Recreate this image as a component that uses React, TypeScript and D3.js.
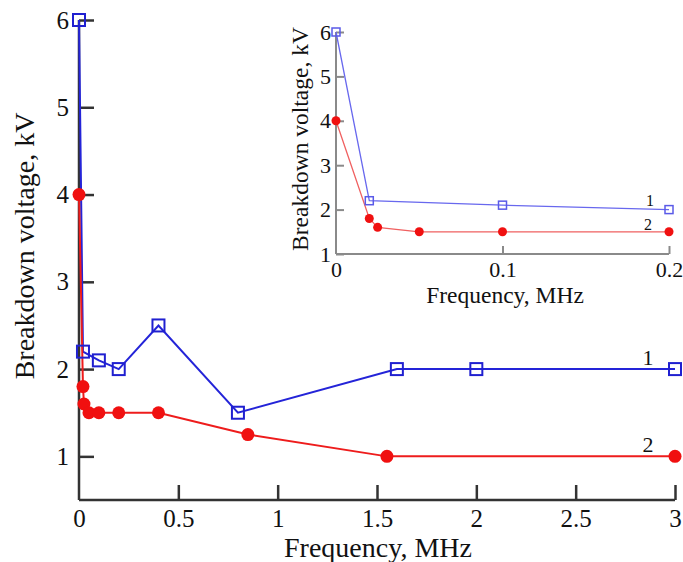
import React, {useEffect, useRef} from 'react';
import * as d3 from 'd3';

// frequency, MHz
const freq1 = [0, 0.02, 0.1, 0.2, 0.4, 0.8, 1.6, 2.0, 3.0];
const volt1 = [6, 2.2, 2.1, 2.0, 2.5, 1.5, 2.0, 2.0, 2.0];
const freq2 = [0, 0.02, 0.025, 0.05, 0.1, 0.2, 0.4, 0.85, 1.55, 3.0];
const volt2 = [4, 1.8, 1.6, 1.5, 1.5, 1.5, 1.5, 1.25, 1.0, 1.0];

// inset (zoom on low frequencies)
const insetFreq1 = [0, 0.02, 0.1, 0.2];
const insetVolt1 = [6, 2.2, 2.1, 2.0];
const insetFreq2 = [0, 0.02, 0.025, 0.05, 0.1, 0.2];
const insetVolt2 = [4, 1.8, 1.6, 1.5, 1.5, 1.5];

const mainXTicks = [0, 0.5, 1, 1.5, 2, 2.5, 3];
const mainYTicks = [1, 2, 3, 4, 5, 6];
const insetXTicks = [0, 0.1, 0.2];
const insetYTicks = [1, 2, 3, 4, 5, 6];

const FONT = '"Liberation Serif", "Times New Roman", Times, serif';

export default function App() {
    const ref = useRef<SVGSVGElement>(null);

    useEffect(() => {
        const svg = d3.select(ref.current);
        svg.selectAll('*').remove();

        function drawPanel(opt: any) {
            const x = d3.scaleLinear().domain(opt.xDomain).range(opt.xRange);
            const y = d3.scaleLinear().domain(opt.yDomain).range(opt.yRange);
            const g = svg.append('g');

            // axes, ticks pointing inward
            const xAxis = d3.axisBottom(x).tickValues(opt.xTicks).tickSize(-opt.tick)
                .tickFormat((d: any) => String(d));
            const yAxis = d3.axisLeft(y).tickValues(opt.yTicks).tickSize(-opt.tick)
                .tickFormat((d: any) => String(d));

            const gx = g.append('g')
                .attr('transform', 'translate(0,' + opt.yRange[0] + ')')
                .call(xAxis);
            const gy = g.append('g')
                .attr('transform', 'translate(' + opt.xRange[0] + ',0)')
                .call(yAxis);

            [gx, gy].forEach(a => {
                a.attr('font-family', null).attr('font-size', null);
                a.select('.domain').attr('stroke', opt.axisColor).attr('stroke-width', opt.axisWidth);
                a.selectAll('.tick line').attr('stroke', opt.axisColor).attr('stroke-width', opt.axisWidth);
                a.selectAll('.tick text')
                    .style('font-family', FONT).style('font-size', opt.tickFont + 'px')
                    .attr('fill', '#111');
            });
            gx.select('.domain').attr('d', 'M' + opt.xRange[0] + ',0H' + opt.xRange[1]);
            gy.select('.domain').attr('d', 'M0,' + opt.yRange[0] + 'V' + opt.yRange[1]);
            gx.selectAll('.tick text').attr('y', opt.xLabelDy).attr('dy', 0);
            gy.selectAll('.tick text').attr('x', -opt.yLabelDx);
            // no tick mark at origin of x
            gx.selectAll('.tick').filter((d: any) => d === 0).select('line').remove();

            g.append('text')
                .attr('x', opt.xTitle[0]).attr('y', opt.xTitle[1])
                .attr('text-anchor', 'middle')
                .style('font-family', FONT).style('font-size', opt.titleFont + 'px').attr('fill', '#111')
                .text('Frequency, MHz');
            g.append('text')
                .attr('transform', 'translate(' + opt.yTitle[0] + ',' + opt.yTitle[1] + ') rotate(-90)')
                .attr('text-anchor', 'middle')
                .style('font-family', FONT).style('font-size', opt.titleFont + 'px').attr('fill', '#111')
                .text('Breakdown voltage, kV');

            const line = d3.line<[number, number]>().x(d => x(d[0])).y(d => y(d[1]));
            const s1 = opt.f1.map((f: number, i: number) => [f, opt.v1[i]]);
            const s2 = opt.f2.map((f: number, i: number) => [f, opt.v2[i]]);

            g.append('path').datum(s1).attr('d', line).attr('fill', 'none')
                .attr('stroke', opt.blue).attr('stroke-width', opt.lineWidth);
            g.append('path').datum(s2).attr('d', line).attr('fill', 'none')
                .attr('stroke', opt.red).attr('stroke-width', opt.lineWidth);

            g.selectAll('.sq').data(s1).enter().append('rect')
                .attr('x', (d: any) => x(d[0]) - opt.sq / 2)
                .attr('y', (d: any) => y(d[1]) - opt.sq / 2)
                .attr('width', opt.sq).attr('height', opt.sq)
                .attr('fill', 'none').attr('stroke', opt.blueMark).attr('stroke-width', opt.sqStroke);
            g.selectAll('.dot').data(s2).enter().append('circle')
                .attr('cx', (d: any) => x(d[0])).attr('cy', (d: any) => y(d[1]))
                .attr('r', opt.r).attr('fill', '#f01010');

            opt.labels.forEach((l: any) => {
                g.append('text').attr('x', l[0]).attr('y', l[1])
                    .attr('text-anchor', 'middle')
                    .style('font-family', FONT).style('font-size', opt.seriesFont + 'px').attr('fill', '#111')
                    .text(l[2]);
            });
        }

        drawPanel({
            xDomain: [0, 3], xRange: [79, 675],
            yDomain: [0.5, 6], yRange: [500, 20],
            xTicks: mainXTicks, yTicks: mainYTicks,
            tick: 15, axisColor: '#333', axisWidth: 2.5,
            tickFont: 25, xLabelDy: 27, yLabelDx: 10,
            titleFont: 28, xTitle: [378, 557], yTitle: [34, 246],
            f1: freq1, v1: volt1, f2: freq2, v2: volt2,
            blue: '#2424d8', blueMark: '#2020d0', red: '#ee1c1c', lineWidth: 2,
            sq: 12, sqStroke: 2, r: 6.5,
            seriesFont: 22, labels: [[648, 365, '1'], [648, 452, '2']]
        });

        drawPanel({
            xDomain: [0, 0.2], xRange: [336, 669],
            yDomain: [1, 6], yRange: [254, 32],
            xTicks: insetXTicks, yTicks: insetYTicks,
            tick: 8, axisColor: '#8a8a8a', axisWidth: 2,
            tickFont: 22, xLabelDy: 23, yLabelDx: 5,
            titleFont: 23.5, xTitle: [505, 303], yTitle: [308, 139],
            f1: insetFreq1, v1: insetVolt1, f2: insetFreq2, v2: insetVolt2,
            blue: '#6868ee', blueMark: '#5a5ae8', red: '#f06060', lineWidth: 1.3,
            sq: 8, sqStroke: 1.5, r: 4.5,
            seriesFont: 16, labels: [[650, 206, '1'], [648, 230, '2']]
        });
    }, []);

    return (
        <svg ref={ref} width={683} height={562}
             style={{position: 'absolute', left: 0, top: 0, background: '#fff'}}/>
    );
}
